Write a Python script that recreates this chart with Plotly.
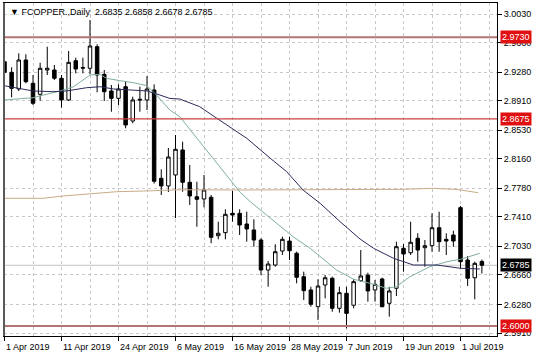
import plotly.graph_objects as go

# ---- data ----
opens = [2.9414, 2.9277, 2.9062, 2.9436, 2.9135, 2.8993, 2.9307, 2.9307, 2.9200, 2.8920,
         2.9427, 2.9340, 2.9329, 2.9608, 2.9251, 2.9036, 2.8941, 2.9091, 2.8648, 2.8930,
         2.8920, 2.9049, 2.7908, 2.7809, 2.7951, 2.8274, 2.7857, 2.7670, 2.7641, 2.7663,
         2.7167, 2.7206, 2.7456, 2.7456, 2.7318, 2.7241, 2.7111, 2.6724, 2.6788, 2.6969,
         2.7098, 2.6940, 2.6637, 2.6466, 2.6250, 2.6530, 2.6617, 2.6229, 2.6423, 2.6269,
         2.6586, 2.6659, 2.6466, 2.6608, 2.6294, 2.6488, 2.7004, 2.6947, 2.7133, 2.7012,
         2.7038, 2.7270, 2.7120, 2.7176, 2.7529, 2.6853, 2.6624, 2.6835]
highs = [2.9436, 2.9342, 2.9523, 2.9510, 2.9242, 2.9401, 2.9608, 2.9372, 2.9242, 2.9552,
         2.9466, 2.9466, 2.9953, 2.9639, 2.9307, 2.9113, 2.9122, 2.9156, 2.8962, 2.9091,
         2.9229, 2.9122, 2.8024, 2.8300, 2.8467, 2.8381, 2.8080, 2.7864, 2.7951, 2.7693,
         2.7348, 2.7508, 2.7744, 2.7508, 2.7477, 2.7379, 2.7133, 2.6840, 2.7056, 2.7154,
         2.7154, 2.6961, 2.6702, 2.6508, 2.6604, 2.6659, 2.6638, 2.6508, 2.6508, 2.6604,
         2.6982, 2.6689, 2.6595, 2.6625, 2.6508, 2.7089, 2.7060, 2.7348, 2.7198, 2.7111,
         2.7456, 2.7477, 2.7198, 2.7231, 2.7551, 2.6905, 2.6831, 2.6858]
lows = [2.9251, 2.8954, 2.9036, 2.9135, 2.8855, 2.8911, 2.9242, 2.9178, 2.8820, 2.8907,
        2.9264, 2.9264, 2.9251, 2.9019, 2.8907, 2.8768, 2.8855, 2.8554, 2.8618, 2.8768,
        2.8790, 2.7840, 2.7693, 2.7731, 2.7395, 2.7735, 2.7563, 2.7283, 2.7534, 2.7069,
        2.7120, 2.7120, 2.7348, 2.7176, 2.7090, 2.7025, 2.6659, 2.6508, 2.6767, 2.6918,
        2.6853, 2.6552, 2.6337, 2.6250, 2.6079, 2.6358, 2.6185, 2.6173, 2.5970, 2.6229,
        2.6573, 2.6315, 2.6315, 2.6242, 2.6121, 2.6388, 2.6702, 2.6918, 2.6831, 2.6767,
        2.6960, 2.6960, 2.6918, 2.7025, 2.6745, 2.6518, 2.6345, 2.6678]
closes = [2.9277, 2.9070, 2.9436, 2.9156, 2.8877, 2.9329, 2.9329, 2.9200, 2.8920, 2.9406,
          2.9320, 2.9332, 2.9617, 2.9242, 2.9027, 2.8941, 2.9062, 2.8597, 2.8920, 2.8920,
          2.9062, 2.7870, 2.7809, 2.8183, 2.8283, 2.7857, 2.7680, 2.7637, 2.7757, 2.7146,
          2.7198, 2.7443, 2.7434, 2.7305, 2.7254, 2.7111, 2.6724, 2.6801, 2.6960, 2.7120,
          2.6973, 2.6630, 2.6457, 2.6281, 2.6517, 2.6624, 2.6229, 2.6431, 2.6164, 2.6573,
          2.6647, 2.6453, 2.6539, 2.6250, 2.6453, 2.7025, 2.6931, 2.7082, 2.6982, 2.7038,
          2.7270, 2.7090, 2.7098, 2.7098, 2.6831, 2.6617, 2.6810, 2.6785]

# moving averages (bar index, price)
ma_fast_x = [0, 2.2, 4, 5.9, 7.8, 9.7, 11.1, 12, 13.4, 14.3, 16.2, 18.1, 20, 21.1, 23.2, 24.6,
             27.4, 30.2, 33.1, 34.5, 35.9, 38.2, 40.5, 42.9, 44.3, 46.6, 49, 51.3, 53.6, 55,
             56.9, 59.7, 62.1, 64, 66.7]
ma_fast_y = [2.8920, 2.8941, 2.8949, 2.8993, 2.9036, 2.9091, 2.9178, 2.9242, 2.9251, 2.9200,
             2.9169, 2.9143, 2.9104, 2.9006, 2.8790, 2.8704, 2.8381, 2.8058, 2.7725, 2.7606,
             2.7499, 2.7327, 2.7154, 2.7004, 2.6896, 2.6724, 2.6604, 2.6552, 2.6488, 2.6508,
             2.6637, 2.6767, 2.6831, 2.6862, 2.6940]
ma_mid_x = [0, 2.2, 4, 6.8, 8.7, 11.5, 13.4, 15.3, 18.1, 20, 21.8, 23.2, 24.6, 27.4, 29.8,
            34, 37.3, 39.6, 41.9, 44.3, 47.1, 49.9, 51.8, 54.6, 57.4, 60.7, 64, 66.7]
ma_mid_y = [2.9104, 2.9071, 2.9036, 2.9027, 2.9036, 2.9078, 2.9091, 2.9062, 2.9049, 2.9036,
            2.8984, 2.8940, 2.8932, 2.8833, 2.8683, 2.8425, 2.8167, 2.7994, 2.7757, 2.7585,
            2.7348, 2.7124, 2.7004, 2.6875, 2.6788, 2.6788, 2.6746, 2.6737]
ma_slow_x = [0, 5.4, 8.3, 12, 15.7, 19.5, 24.6, 34, 49.9, 56, 60.2, 63.5, 66.5]
ma_slow_y = [2.7650, 2.7650, 2.7680, 2.7706, 2.7735, 2.7744, 2.7760, 2.7757, 2.7757, 2.7766,
             2.7779, 2.7764, 2.7722]

level_lines = [2.9730, 2.8675, 2.6000]
current_price = 2.6785

y_ticks = [3.0030, 2.9660, 2.9280, 2.8910, 2.8530, 2.8160, 2.7780, 2.7410, 2.7030, 2.6660,
           2.6280, 2.5910]
x_label_idx = [0, 8, 16, 24, 32, 40, 48, 56, 64]
x_labels = ["1 Apr 2019", "11 Apr 2019", "24 Apr 2019", "6 May 2019", "16 May 2019",
            "28 May 2019", "7 Jun 2019", "19 Jun 2019", "1 Jul 2019"]
title_text = "FCOPPER.,Daily  2.6835 2.6858 2.6678 2.6785"

FONT = "Liberation Sans, Arial, sans-serif"
bars = list(range(len(opens)))

fig = go.Figure()

fig.add_trace(go.Candlestick(
    x=bars, open=opens, high=highs, low=lows, close=closes,
    increasing=dict(line=dict(color="black", width=1), fillcolor="white"),
    decreasing=dict(line=dict(color="black", width=1), fillcolor="black"),
    whiskerwidth=0, showlegend=False, hoverinfo="skip"))

fig.add_trace(go.Scatter(x=ma_slow_x, y=ma_slow_y, mode="lines",
                         line=dict(color="#c9ab84", width=1), showlegend=False))
fig.add_trace(go.Scatter(x=ma_fast_x, y=ma_fast_y, mode="lines",
                         line=dict(color="#7fae9e", width=1), showlegend=False))
fig.add_trace(go.Scatter(x=ma_mid_x, y=ma_mid_y, mode="lines",
                         line=dict(color="#2a2a5c", width=1), showlegend=False))

# current price line (behind)
fig.add_shape(type="line", xref="paper", x0=0, x1=1, yref="y", y0=current_price, y1=current_price,
              line=dict(color="#c4c4c4", width=1), layer="below")
# horizontal levels
level_styles = [("#b57575", 2), ("#c84040", 1.2), ("#b57575", 2)]
for lv, (col, w) in zip(level_lines, level_styles):
    fig.add_shape(type="line", xref="paper", x0=0, x1=1, yref="y", y0=lv, y1=lv,
                  line=dict(color=col, width=w), layer="above")
# thicker left frame edge
fig.add_shape(type="line", xref="paper", x0=0, x1=0, yref="paper", y0=0, y1=1,
              line=dict(color="#5a5a5a", width=2), layer="above")

annotations = []
for lv in level_lines:
    annotations.append(dict(xref="paper", x=1, xshift=3, xanchor="left", yref="y", y=lv,
                            yanchor="middle", text=f"{lv:.4f}", showarrow=False,
                            bgcolor="#e01010", font=dict(color="white", size=9, family=FONT),
                            borderpad=1))
annotations.append(dict(xref="paper", x=1, xshift=3, xanchor="left", yref="y", y=current_price,
                        yanchor="middle", text=f"{current_price:.4f}", showarrow=False,
                        bgcolor="black", font=dict(color="white", size=9, family=FONT),
                        borderpad=1))
for i, t in zip(x_label_idx, x_labels):
    annotations.append(dict(xref="x", x=i, xanchor="left", xshift=-1, yref="paper", y=0,
                            yshift=-4, yanchor="top", text=t, showarrow=False,
                            font=dict(color="black", size=9, family=FONT)))
annotations.append(dict(xref="paper", x=0, xshift=4, xanchor="left", yref="paper", y=1,
                        yshift=-2, yanchor="top", text="\u25BC " + title_text, showarrow=False,
                        font=dict(color="black", size=9, family=FONT)))

fig.update_layout(
    width=536, height=358,
    margin=dict(l=4, r=39, t=3, b=22),
    paper_bgcolor="white", plot_bgcolor="white",
    annotations=annotations,
    showlegend=False,
    xaxis=dict(range=[-0.07, 69.12], rangeslider=dict(visible=False),
               tickmode="array", tickvals=x_label_idx, showticklabels=False,
               ticks="outside", ticklen=4, tickcolor="black",
               showgrid=True, gridcolor="#c8c8c8", griddash="3px,3px", gridwidth=1,
               minor=dict(tickmode="linear", tick0=0, dtick=4, showgrid=True,
                          gridcolor="#c8c8c8", griddash="3px,3px", ticks=""),
               showline=True, linecolor="black", linewidth=1, mirror=True, zeroline=False),
    yaxis=dict(range=[2.58715, 3.01723], side="right",
               tickmode="array", tickvals=y_ticks, ticktext=[f"{v:.4f}" for v in y_ticks],
               ticks="outside", ticklen=4, tickcolor="black",
               tickfont=dict(size=9, family=FONT, color="black"),
               showgrid=True, gridcolor="#c8c8c8", griddash="3px,3px", gridwidth=1,
               showline=True, linecolor="black", linewidth=1, mirror=True, zeroline=False),
)

fig.write_html("out.html")
